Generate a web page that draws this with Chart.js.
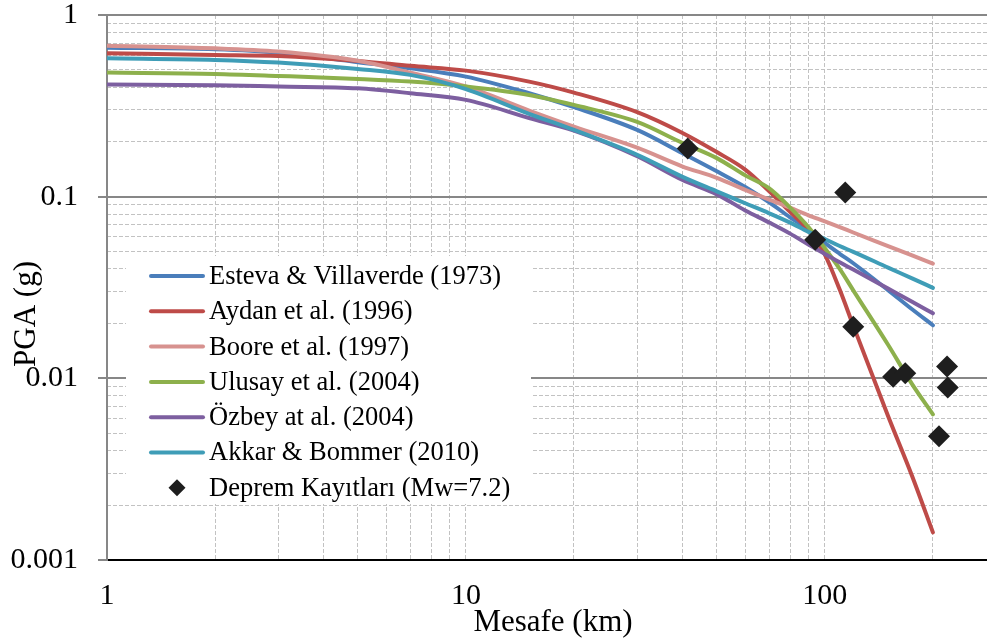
<!DOCTYPE html>
<html>
<head>
<meta charset="utf-8">
<script src="https://cdn.jsdelivr.net/npm/chart.js@4.4.1/dist/chart.umd.min.js"></script>
<style>
html,body{margin:0;padding:0;background:#ffffff;}
#wrap{width:987px;height:643px;position:relative;}
</style>
</head>
<body>
<div id="wrap"><canvas id="c" width="987" height="643"></canvas></div>
<script>
// ---- data ----
const distances = [1, 2, 3, 5, 7, 10, 15, 20, 30, 40, 50, 60, 70, 80, 90, 100, 110, 120, 150, 175, 200];
const esteva  = [0.661, 0.648, 0.621, 0.55, 0.509, 0.458, 0.371, 0.311, 0.233, 0.174, 0.138, 0.113, 0.093, 0.077, 0.066, 0.0557, 0.0485, 0.043, 0.0306, 0.024, 0.0196];
const aydan   = [0.616, 0.603, 0.595, 0.559, 0.525, 0.494, 0.430, 0.374, 0.292, 0.225, 0.176, 0.141, 0.107, 0.0824, 0.0653, 0.048, 0.0308, 0.0195, 0.0062, 0.0029, 0.00142];
const boore   = [0.678, 0.656, 0.629, 0.56, 0.482, 0.404, 0.298, 0.243, 0.186, 0.147, 0.127, 0.109, 0.0963, 0.087, 0.079, 0.0731, 0.068, 0.0635, 0.0535, 0.0475, 0.0428];
const ulusay  = [0.482, 0.474, 0.462, 0.445, 0.43, 0.404, 0.363, 0.32, 0.258, 0.198, 0.163, 0.131, 0.111, 0.0871, 0.0681, 0.052, 0.040, 0.0305, 0.0153, 0.0093, 0.00634];
const ozbey   = [0.414, 0.411, 0.404, 0.395, 0.371, 0.341, 0.271, 0.231, 0.167, 0.124, 0.103, 0.084, 0.072, 0.0626, 0.0545, 0.0484, 0.0435, 0.0397, 0.0312, 0.0264, 0.0228];
const akkar   = [0.578, 0.566, 0.547, 0.505, 0.468, 0.391, 0.286, 0.233, 0.170, 0.129, 0.107, 0.092, 0.081, 0.072, 0.064, 0.0585, 0.0535, 0.0497, 0.0407, 0.0355, 0.0315];

const recordDist = [41.5, 114, 94, 120, 155, 167.5, 219, 220, 208];
const recordPGA  = [0.184, 0.1055, 0.058, 0.0192, 0.0102, 0.01065, 0.0116, 0.0089, 0.0048];

const seriesNames = ['Esteva & Villaverde (1973)', 'Aydan et al. (1996)', 'Boore et al. (1997)', 'Ulusay et al. (2004)', 'Özbey at al. (2004)', 'Akkar & Bommer (2010)'];
const recordName = 'Deprem Kayıtları (Mw=7.2)';
const xTickLabels = [1, 10, 100];
const yTickLabels = [1, 0.1, 0.01, 0.001];
const xTitle = 'Mesafe (km)';
const yTitle = 'PGA (g)';

// ---- styling ----
const seriesValues = [esteva, aydan, boore, ulusay, ozbey, akkar];
const seriesColors = ['#4a7ebb', '#be4b48', '#d7928f', '#8db04c', '#7d5fa0', '#3f9db7'];
const FONT = '"Liberation Serif", "Times New Roman", serif';

const decades = [0.001, 0.01, 0.1];
const yMinorTicks = [];
decades.forEach(d => { for (let k = 2; k <= 9; k++) yMinorTicks.push(+(d * k).toPrecision(3)); });
const xGridTicks = [];
[1, 10, 100].forEach(d => { for (let k = 1; k <= 9; k++) { const v = d * k; if (v <= 283) xGridTicks.push(v); } });

const datasets = seriesValues.map((vals, i) => ({
  label: seriesNames[i],
  data: distances.map((d, j) => ({ x: d, y: vals[j] })),
  borderColor: seriesColors[i],
  backgroundColor: seriesColors[i],
  borderWidth: 4,
  pointRadius: 0,
  pointHoverRadius: 0,
  cubicInterpolationMode: 'monotone',
  fill: false,
  order: 10 - i
}));
datasets.push({
  label: recordName,
  data: recordDist.map((d, j) => ({ x: d, y: recordPGA[j] })),
  showLine: false,
  pointStyle: 'rectRot',
  pointRadius: 11,
  pointHoverRadius: 11,
  pointBorderWidth: 0,
  borderWidth: 0,
  backgroundColor: '#1e1e1e',
  borderColor: '#1e1e1e',
  order: 0
});

const overlay = {
  id: 'overlay',
  afterDatasetsDraw(chart) {
    const ctx = chart.ctx;
    ctx.save();
    // legend box
    ctx.fillStyle = '#ffffff';
    ctx.fillRect(126, 256, 405, 248);
    const rowY0 = 276, rowStep = 35.3;
    ctx.font = '26.5px ' + FONT;
    ctx.textAlign = 'left';
    ctx.textBaseline = 'middle';
    chart.data.datasets.forEach((ds, i) => {
      const y = rowY0 + i * rowStep;
      if (ds.showLine === false) {
        ctx.fillStyle = ds.backgroundColor;
        ctx.beginPath();
        ctx.moveTo(177 - 8.5, y); ctx.lineTo(177, y - 8.5); ctx.lineTo(177 + 8.5, y); ctx.lineTo(177, y + 8.5); ctx.closePath();
        ctx.fill();
      } else {
        ctx.strokeStyle = ds.borderColor;
        ctx.lineWidth = 4;
        ctx.lineCap = 'round';
        ctx.beginPath(); ctx.moveTo(151, y); ctx.lineTo(203, y); ctx.stroke();
      }
      ctx.fillStyle = '#000000';
      ctx.fillText(ds.label, 209, y + 1);
    });
    ctx.restore();
  },
  afterDraw(chart) {
    const ctx = chart.ctx;
    ctx.save();
    ctx.fillStyle = '#000000';
    ctx.font = '31px ' + FONT;
    ctx.textAlign = 'center';
    ctx.textBaseline = 'alphabetic';
    ctx.fillText(xTitle, 553, 631);
    ctx.translate(35, 314);
    ctx.rotate(-Math.PI / 2);
    ctx.fillText(yTitle, 0, 0);
    ctx.restore();
  }
};

const noPadV = s => { s.paddingTop = 0; s.paddingBottom = 0; };
const noPadH = s => { s.paddingLeft = 0; s.paddingRight = 0; };

new Chart(document.getElementById('c'), {
  type: 'line',
  data: { datasets },
  options: {
    responsive: false,
    animation: false,
    devicePixelRatio: 1,
    layout: { autoPadding: false, padding: { left: 0, right: 0, top: 15, bottom: 0 } },
    plugins: { legend: { display: false }, tooltip: { enabled: false }, title: { display: false } },
    elements: { line: { borderJoinStyle: 'round', borderCapStyle: 'round' } },
    scales: {
      x: {
        type: 'logarithmic', min: 1, max: 283, position: 'bottom',
        afterBuildTicks: s => { s.ticks = xGridTicks.map(v => ({ value: v })); },
        afterFit: s => { s.height = 83; noPadH(s); noPadV(s); },
        ticks: {
          autoSkip: false, maxRotation: 0, minRotation: 0, padding: 18, color: '#000000',
          font: { family: FONT, size: 30 },
          callback: v => xTickLabels.includes(v) ? String(v) : ''
        },
        grid: {
          color: c => (c.tick && c.tick.value === 1) ? 'rgba(0,0,0,0)' : '#c2c2c2',
          lineWidth: 1, drawTicks: false, borderDash: [4, 2]
        },
        border: { display: true, color: '#000000', width: 2, dash: [4, 2] }
      },
      y2: {
        type: 'logarithmic', min: 0.001, max: 1, position: 'left',
        afterBuildTicks: s => { s.ticks = yMinorTicks.map(v => ({ value: v })); },
        afterFit: s => { s.width = 0; noPadH(s); noPadV(s); },
        ticks: { display: false },
        grid: { color: '#c2c2c2', lineWidth: 1, drawTicks: false, borderDash: [4, 2] },
        border: { display: false, dash: [4, 2] }
      },
      y: {
        type: 'logarithmic', min: 0.001, max: 1, position: 'left',
        afterBuildTicks: s => { s.ticks = yTickLabels.map(v => ({ value: v })); },
        afterFit: s => { s.width = 107; noPadH(s); noPadV(s); },
        ticks: {
          autoSkip: false, padding: 20, color: '#000000',
          font: { family: FONT, size: 30 },
          callback: v => String(v)
        },
        grid: {
          color: c => (c.tick && c.tick.value === 0.001) ? 'rgba(0,0,0,0)' : '#878787',
          lineWidth: 2, drawTicks: true, tickLength: 9, tickColor: '#878787', tickWidth: 2
        },
        border: { display: true, color: '#878787', width: 2 }
      }
    }
  },
  plugins: [overlay]
});
</script>
</body>
</html>
